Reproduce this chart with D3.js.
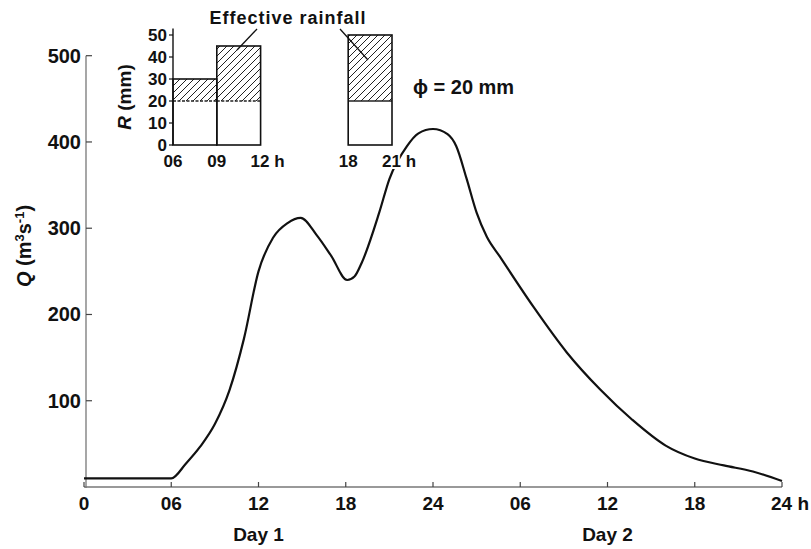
<!DOCTYPE html>
<html>
<head>
<meta charset="utf-8">
<script src="https://cdn.jsdelivr.net/npm/d3@7"></script>
<style>
  body { margin: 0; background: #fff; }
  text { font-family: "Liberation Sans", Arial, sans-serif; font-weight: bold; fill: #111; }
</style>
</head>
<body>
<script>
var w = 811;
var h = 549;

// hydrograph (hours from start of day 1, discharge m3/s)
var hours = [0, 6, 7, 8, 9, 10, 11, 12, 13, 14, 14.9, 16, 17, 18.1, 18.6, 19.1, 20.3, 21, 22.2, 23, 24, 25, 25.6, 26.3, 27, 27.7, 28.6, 30.9, 33.2, 35.5, 37.7, 40, 42, 44, 46, 48];
var flow  = [10, 10, 27, 47, 73, 112, 172, 250, 289, 306, 312, 292, 268, 240, 244, 260, 318, 357, 395, 410, 415, 409, 395, 358, 318, 290, 267, 209, 156, 113, 78, 48, 33, 25, 18, 7];

var xTicks = [0, 6, 12, 18, 24, 30, 36, 42, 48];
var xTickLabels = ["0", "06", "12", "18", "24", "06", "12", "18", "24 h"];
var yTicks = [100, 200, 300, 400, 500];

// effective rainfall inset
var barStart = [6, 9, 18];
var barEnd = [9, 12, 21];
var barTotal = [30, 45, 50];
var phi = 20;
var insetTicks = [6, 9, 12, 18, 21];
var insetTickLabels = ["06", "09", "12 h", "18", "21 h"];
var rTicks = [0, 10, 20, 30, 40, 50];

var svg = d3.select("body").append("svg").attr("width", w).attr("height", h);

var defs = svg.append("defs");
defs.append("pattern")
  .attr("id", "hatch")
  .attr("patternUnits", "userSpaceOnUse")
  .attr("width", 7).attr("height", 7)
  .append("path")
  .attr("d", "M-1,8 L8,-1 M-1,1 L1,-1 M6,8 L8,6")
  .attr("stroke", "#222").attr("stroke-width", 1);

var x = d3.scaleLinear().domain([0, 48]).range([84, 782]);
var y = d3.scaleLinear().domain([0, 500]).range([487, 55.7]);

// axes
svg.append("line")
  .attr("x1", x(0)).attr("x2", x(48)).attr("y1", y(0)).attr("y2", y(0))
  .attr("stroke", "#777").attr("stroke-width", 1.3);
svg.append("line")
  .attr("x1", 86).attr("x2", 86).attr("y1", y(0) + 1).attr("y2", y(500))
  .attr("stroke", "#777").attr("stroke-width", 1.3);

svg.selectAll(".xt").data(xTicks).enter().append("line")
  .attr("x1", d => x(d)).attr("x2", d => x(d))
  .attr("y1", y(0)).attr("y2", y(0) - 5)
  .attr("stroke", "#444").attr("stroke-width", 1.2);
svg.selectAll(".xl").data(xTicks).enter().append("text")
  .attr("x", d => x(d)).attr("y", 510)
  .attr("text-anchor", (d, i) => i == xTicks.length - 1 ? "start" : "middle")
  .attr("dx", (d, i) => i == xTicks.length - 1 ? -11 : 0)
  .style("font-size", "19px")
  .text((d, i) => xTickLabels[i]);

svg.append("text").attr("x", x(12)).attr("y", 541).attr("text-anchor", "middle")
  .style("font-size", "19px").text("Day 1");
svg.append("text").attr("x", x(36)).attr("y", 541).attr("text-anchor", "middle")
  .style("font-size", "19px").text("Day 2");

svg.selectAll(".yt").data(yTicks).enter().append("line")
  .attr("x1", 86).attr("x2", 92)
  .attr("y1", d => y(d)).attr("y2", d => y(d))
  .attr("stroke", "#444").attr("stroke-width", 1.2);
svg.selectAll(".yl").data(yTicks).enter().append("text")
  .attr("x", 81).attr("y", d => y(d) + 7)
  .attr("text-anchor", "end")
  .style("font-size", "20px")
  .text(d => d);

var yTitle = svg.append("text")
  .attr("transform", "translate(31,246) rotate(-90)")
  .attr("text-anchor", "middle")
  .style("font-size", "20px");
yTitle.append("tspan").style("font-style", "italic").text("Q");
yTitle.append("tspan").text("  (m");
yTitle.append("tspan").attr("dy", -7).style("font-size", "13px").text("3");
yTitle.append("tspan").attr("dy", 7).text("s");
yTitle.append("tspan").attr("dy", -7).style("font-size", "13px").text("-1");
yTitle.append("tspan").attr("dy", 7).text(")");

// hydrograph
var line = d3.line()
  .x((d, i) => x(hours[i]))
  .y(d => y(d))
  .curve(d3.curveMonotoneX);
svg.append("path")
  .datum(flow)
  .attr("d", line)
  .attr("fill", "none")
  .attr("stroke", "#111")
  .attr("stroke-width", 2.2);

// inset
var xi = d3.scaleLinear().domain([6, 21]).range([173, 392]);
var yi = d3.scaleLinear().domain([0, 50]).range([145, 35]);
var inset = svg.append("g");

inset.selectAll(".hb").data(barTotal).enter().append("rect")
  .attr("x", (d, i) => xi(barStart[i]))
  .attr("width", (d, i) => xi(barEnd[i]) - xi(barStart[i]))
  .attr("y", d => yi(d))
  .attr("height", d => yi(phi) - yi(d))
  .attr("fill", "url(#hatch)");
inset.selectAll(".wb").data(barTotal).enter().append("rect")
  .attr("x", (d, i) => xi(barStart[i]))
  .attr("width", (d, i) => xi(barEnd[i]) - xi(barStart[i]))
  .attr("y", yi(phi))
  .attr("height", yi(0) - yi(phi))
  .attr("fill", "#fff");
inset.selectAll(".pl").data(barTotal).enter().append("line")
  .attr("x1", (d, i) => xi(barStart[i]))
  .attr("x2", (d, i) => xi(barEnd[i]))
  .attr("y1", yi(phi)).attr("y2", yi(phi))
  .attr("stroke", "#222").attr("stroke-width", 1.3)
  .attr("stroke-dasharray", (d, i) => barStart[i] < 12 ? "3,1.5" : null);
inset.selectAll(".ob").data(barTotal).enter().append("rect")
  .attr("x", (d, i) => xi(barStart[i]))
  .attr("width", (d, i) => xi(barEnd[i]) - xi(barStart[i]))
  .attr("y", d => yi(d))
  .attr("height", d => yi(0) - yi(d))
  .attr("fill", "none")
  .attr("stroke", "#111").attr("stroke-width", 1.6);

inset.append("line")
  .attr("x1", xi(6)).attr("x2", xi(6)).attr("y1", yi(0)).attr("y2", yi(53))
  .attr("stroke", "#111").attr("stroke-width", 1.4);
inset.selectAll(".rt").data(rTicks).enter().append("line")
  .attr("x1", xi(6) - 4).attr("x2", xi(6))
  .attr("y1", d => yi(d)).attr("y2", d => yi(d))
  .attr("stroke", "#111").attr("stroke-width", 1.2);
inset.selectAll(".rl").data(rTicks).enter().append("text")
  .attr("x", 167).attr("y", d => yi(d) + 6)
  .attr("text-anchor", "end")
  .style("font-size", "17px")
  .text(d => d);
inset.selectAll(".il").data(insetTicks).enter().append("text")
  .attr("x", d => xi(d)).attr("y", 167)
  .attr("text-anchor", (d, i) => insetTickLabels[i].indexOf("h") > 0 ? "start" : "middle")
  .attr("dx", (d, i) => insetTickLabels[i].indexOf("h") > 0 ? -10 : 0)
  .style("font-size", "17px")
  .attr("stroke", "#fff").attr("stroke-width", 4).attr("paint-order", "stroke")
  .text((d, i) => insetTickLabels[i]);

var rTitle = inset.append("text")
  .attr("transform", "translate(131,97) rotate(-90)")
  .attr("text-anchor", "middle")
  .style("font-size", "19px");
rTitle.append("tspan").style("font-style", "italic").text("R");
rTitle.append("tspan").text("  (mm)");

inset.append("text").attr("x", 288).attr("y", 24).attr("text-anchor", "middle")
  .style("font-size", "18px").style("letter-spacing", "1px").text("Effective rainfall");
inset.append("line").attr("x1", 257).attr("y1", 29).attr("x2", 237).attr("y2", 50)
  .attr("stroke", "#111").attr("stroke-width", 1.3);
inset.append("line").attr("x1", 340).attr("y1", 29).attr("x2", 368).attr("y2", 60)
  .attr("stroke", "#111").attr("stroke-width", 1.3);

inset.append("text").attr("x", 413).attr("y", 94)
  .style("font-size", "20px").text("ϕ = 20 mm");
</script>
</body>
</html>
